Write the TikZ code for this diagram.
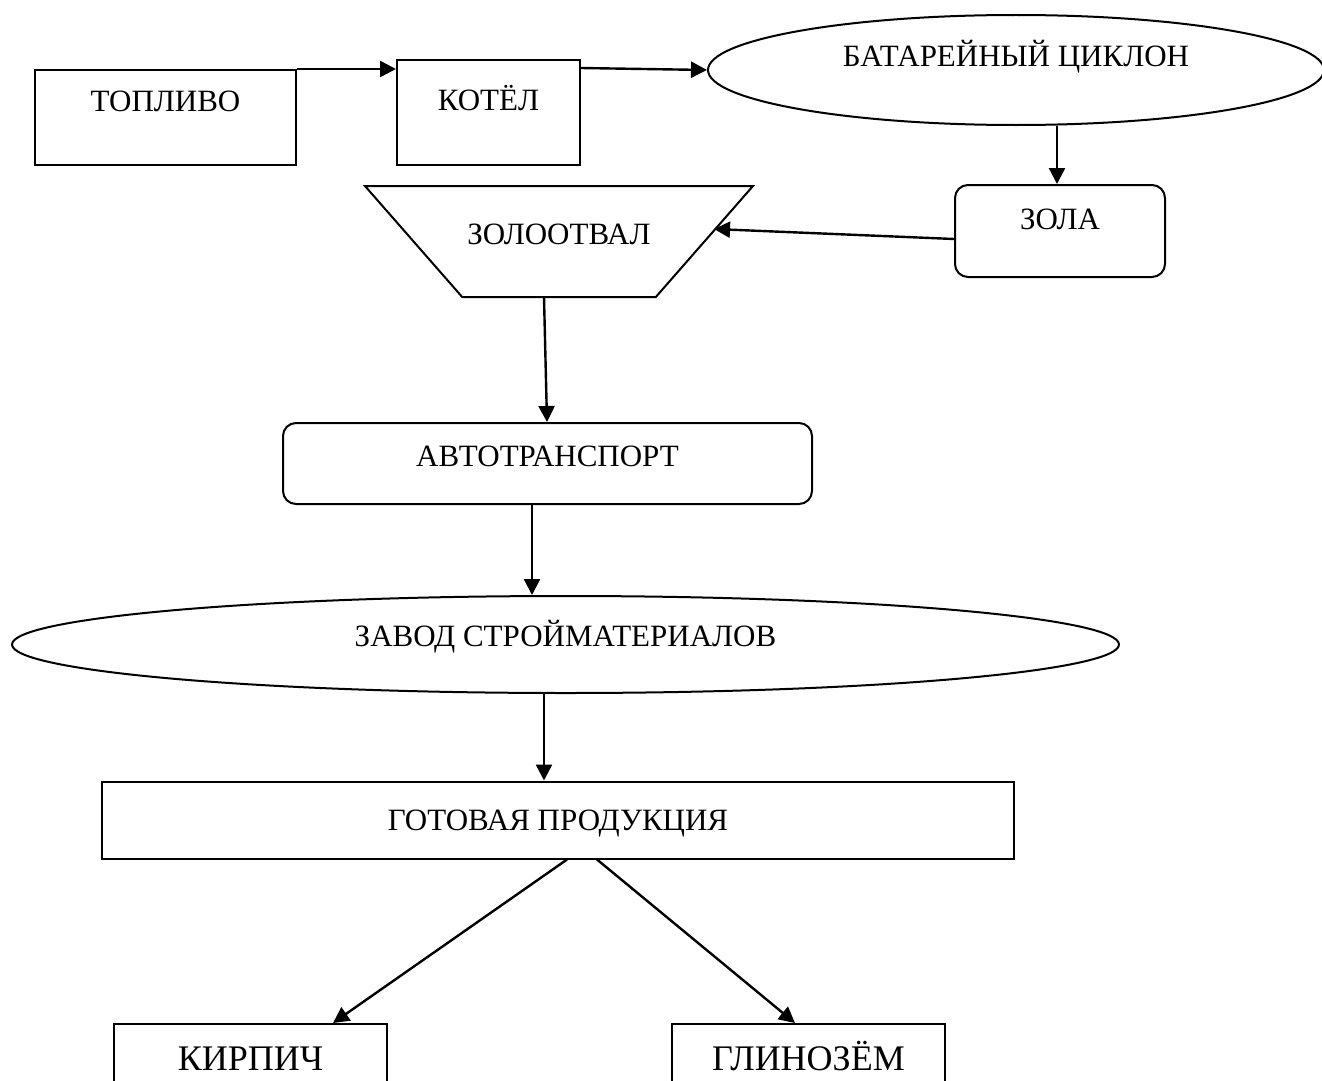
\documentclass[tikz,border=0pt]{standalone}
\usepackage{fontspec}
\setmainfont{Liberation Serif}
\usetikzlibrary{arrows.meta,shapes.geometric}
\begin{document}
\begin{tikzpicture}[x=1pt,y=-1pt,
  box/.style={draw, line width=2pt, inner sep=0pt, font=\fontsize{31}{36}\selectfont, text height=21pt},
  rbox/.style={box, rounded corners=13pt},
  big/.style={font=\fontsize{36}{42}\selectfont, text height=25pt},
  arr/.style={line width=2.4pt, -{Triangle[length=16pt,width=16pt]}}]
\useasboundingbox (0,0) rectangle (1322,1081);
\clip (0,0) rectangle (1322,1081);

\node[box, minimum width=261pt, minimum height=95pt, text depth=34pt] (top) at (165.5,117.5) {ТОПЛИВО};
\node[box, minimum width=183pt, minimum height=105pt, text depth=26pt] (kot) at (488.5,112.5) {КОТЁЛ};
\node[box, ellipse, minimum width=616pt, minimum height=110pt, text depth=28pt] (cyc) at (1016,70) {БАТАРЕЙНЫЙ ЦИКЛОН};
\node[rbox, minimum width=210pt, minimum height=92pt, text depth=24pt] (zola) at (1060,231) {ЗОЛА};
\node[box, trapezium, shape border rotate=180, trapezium stretches body, trapezium angle=48.8, minimum width=388pt, text height=58pt, text depth=53pt] (zo) at (559,241.5) {ЗОЛООТВАЛ};
\coordinate (zoin) at (714,229);
\node[rbox, minimum width=529pt, minimum height=81pt, text depth=16pt] (avt) at (547.5,463.5) {АВТОТРАНСПОРТ};
\node[box, ellipse, minimum width=1107pt, minimum height=97pt, text depth=17pt] (zav) at (565.5,644.5) {ЗАВОД СТРОЙМАТЕРИАЛОВ};
\node[box, minimum width=912pt, minimum height=77pt, text depth=0pt] (got) at (558,820) {ГОТОВАЯ ПРОДУКЦИЯ};
\node[box, big, minimum width=273pt, minimum height=86pt, text depth=19pt] (kir) at (250.5,1067) {КИРПИЧ};
\node[box, big, minimum width=273pt, minimum height=86pt, text depth=19pt] (gli) at (808.5,1067) {ГЛИНОЗЁМ};

\draw[arr] (top.north east) -- ([yshift=43.5pt]kot.west);
\draw[arr] ([yshift=44.5pt]kot.east) -- (cyc.west);
\draw[arr] ([xshift=-3pt]cyc.south -| zola.north) -- ([xshift=-3pt]zola.north);
\draw[arr] ([yshift=-8pt]zola.west) -- (zoin);
\draw[arr] ([xshift=-15pt]zo.south) -- ([xshift=-0.5pt]avt.north);
\draw[arr] ([xshift=-15.5pt]avt.south) -- ([xshift=-33.5pt]zav.north);
\draw[arr] ([xshift=-21.5pt]zav.south) -- ([xshift=-14pt]got.north);
\draw[arr] ([xshift=9pt]got.south) -- ([xshift=82.5pt]kir.north);
\draw[arr] ([xshift=39pt]got.south) -- ([xshift=-13.5pt]gli.north);
\end{tikzpicture}
\end{document}
